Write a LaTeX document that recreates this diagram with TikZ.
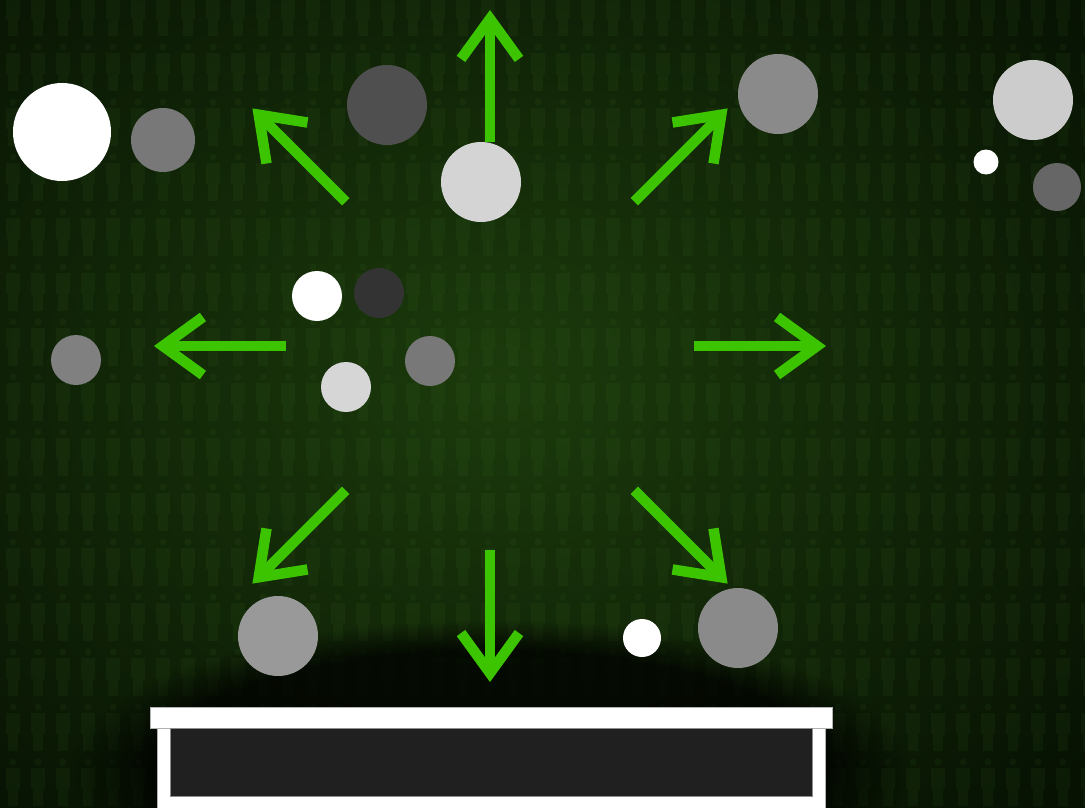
\documentclass[tikz,border=0pt]{standalone}
\usepackage{tikz}
\usetikzlibrary{arrows.meta,calc,fadings}
\definecolor{bgdark}{HTML}{071203}
\definecolor{bgmid}{HTML}{1C3B0C}
\definecolor{burstgreen}{HTML}{3DC400}
\definecolor{pplgreen}{HTML}{5A9A3A}
\definecolor{panel}{HTML}{202020}
\tikzset{
  dot/.style   = {circle, inner sep=0pt, draw=none},
  burst/.style = {-{Straight Barb[length=40pt, width=58pt]}, draw=burstgreen,
                  line width=10.5pt},
  fig/.style   = {fill=pplgreen, opacity=0.07},
  frame/.style = {fill=white, draw=black!30, line width=0.8pt},
}

\begin{document}
\begin{tikzpicture}[x=1pt,y=-1pt]
  \useasboundingbox (0,0) rectangle (1085,808);
  % backdrop
  \fill[bgdark] (0,0) rectangle (1085,808);
  \begin{scope}
    \clip (0,0) rectangle (1085,808);
    \shade[inner color=bgmid, outer color=bgdark] (500,380) ellipse [x radius=760, y radius=600];
    \foreach \i [evaluate=\i as \x using 13+25*\i] in {0,...,43}{
      \foreach \j [evaluate=\j as \y using -8+55*\j] in {0,...,15}{
        \fill[fig] (\x,\y) circle (3.5)
          (\x-7,\y+6) rectangle (\x+7,\y+27)
          (\x-5,\y+27) rectangle (\x+5,\y+44);
      }
    }
    \fill[black, opacity=0.75, path fading=circle with fuzzy edge 20 percent]
      (490,770) ellipse [x radius=420, y radius=150];
  \end{scope}

  % arrows out of the hub
  \coordinate (hub) at (490,346);
  \foreach \a in {0,45,...,315}{
    \coordinate (s\a) at ($(hub)+(\a:204)$);
    \coordinate (t\a) at ($(hub)+(\a:336)$);
    \draw[burst] (s\a) -- (t\a);
  }

  % dots: name/x/y/size/whiteness
  \foreach \n/\x/\y/\d/\w in {
      c1/62/132/98/100, c2/163/140/64/47, c3/387/105/80/31, c4/481/182/80/83,
      c5/778/94/80/54, c6/1033/100/80/80, c7/986/162/25/100, c8/1057/187/48/40,
      c9/317/296/50/100, c10/379/293/50/20, c11/430/361/50/47, c12/346/387/50/84,
      c13/76/360/50/50, c14/278/636/80/60, c15/642/638/38/100, c16/738/628/80/54}{
    \node[dot, minimum size=\d, fill=white!\w!black] (\n) at (\x,\y) {};
  }

  % box at the bottom
  \fill[frame] (150,707) rectangle (832,728);
  \fill[frame] (157,728) rectangle (825,812);
  \fill[panel, draw=black!45, line width=0.8pt] (170,728) rectangle (812,796);
\end{tikzpicture}
\end{document}
